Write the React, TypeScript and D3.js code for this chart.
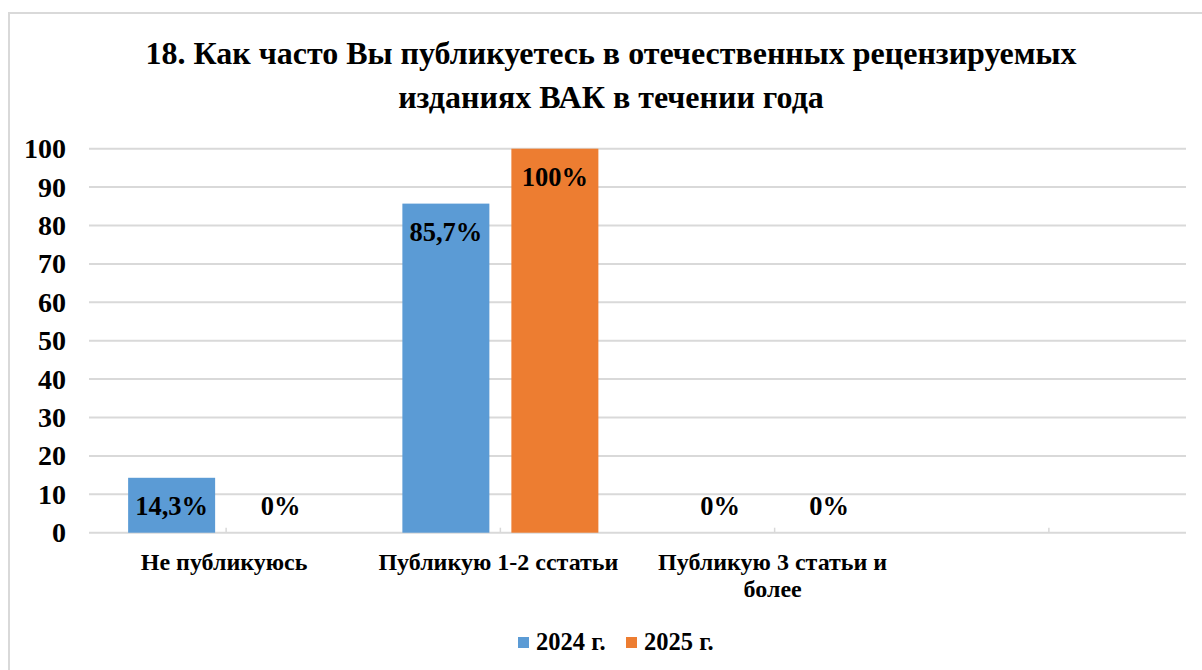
import React from "react";
import * as d3 from "d3";

const categories = ["Не публикуюсь", "Публикую 1-2 сстатьи", "Публикую 3 статьи и более", ""];
const categoryLines = [["Не публикуюсь"], ["Публикую 1-2 сстатьи"], ["Публикую 3 статьи и", "более"], []];
const series2024 = [14.3, 85.7, 0, null];
const series2025 = [0, 100, 0, null];
const labels2024 = ["14,3%", "85,7%", "0%", ""];
const labels2025 = ["0%", "100%", "0%", ""];
const seriesNames = ["2024 г.", "2025 г."];
const yTicks = [0, 10, 20, 30, 40, 50, 60, 70, 80, 90, 100];
const titleLines = [
  "18. Как часто Вы публикуетесь в отечественных рецензируемых",
  "изданиях ВАК в течении года",
];

const W = 1202;
const H = 670;
const colors = ["#5B9BD5", "#ED7D31"];
const font = '"Liberation Serif", "Times New Roman", Times, serif';

export default function App() {
  const left = 89;
  const right = 1186;
  const top = 148.7;
  const bottom = 532.7;

  const x = d3.scalePoint<string>().domain(categories.map((c, i) => String(i))).range([left, right]).padding(0.5);
  const y = d3.scaleLinear().domain([0, 100]).range([bottom, top]);
  const step = x.step();
  const barW = 87;
  const offset = 54.5;
  const ticksX = d3.range(categories.length + 1).map((i) => left + step * i - step / 2).filter((v) => v > left);
  const series = [series2024, series2025];
  const labels = [labels2024, labels2025];

  return (
    <div style={{ position: "absolute", left: 0, top: 0, width: W, height: H, background: "#fff" }}>
      <svg width={W} height={H} style={{ display: "block", fontFamily: font, fontWeight: 700 }}>
        <rect x={9} y={13} width={W} height={H} fill="#fff" stroke="#d9d9d9" strokeWidth={2} />
        {titleLines.map((t, i) => (
          <text key={i} x={611} y={64 + i * 44} textAnchor="middle" fontSize={32} fill="#000">
            {t}
          </text>
        ))}
        {yTicks.map((t) => (
          <g key={t}>
            <line x1={left} x2={right} y1={y(t)} y2={y(t)} stroke="#d9d9d9" strokeWidth={2} />
            <text x={66} y={y(t) + 9.5} textAnchor="end" fontSize={28} fill="#000">
              {t}
            </text>
          </g>
        ))}
        {ticksX.map((tx, i) => (
          <line key={i} x1={tx} x2={tx} y1={bottom} y2={bottom - 5} stroke="#d9d9d9" strokeWidth={1.5} />
        ))}
        {series.map((s, si) =>
          s.map((v, ci) => {
            if (v === null) return null;
            const cx = (x(String(ci)) as number) + (si === 0 ? -offset : offset);
            return (
              <g key={`${si}-${ci}`}>
                {v > 0 && (
                  <rect x={cx - barW / 2} y={y(v)} width={barW} height={y(0) - y(v)} fill={colors[si]} />
                )}
                <text
                  x={cx}
                  y={v > 5 ? y(v) + 37 : y(0) - 18}
                  textAnchor="middle"
                  fontSize={26.5}
                  fill="#000"
                >
                  {labels[si][ci]}
                </text>
              </g>
            );
          })
        )}
        {categoryLines.map((lines, ci) => {
          const cx = (x(String(ci)) as number) - 2;
          return lines.map((ln, li) => (
            <text key={`${ci}-${li}`} x={cx} y={570 + li * 27} textAnchor="middle" fontSize={24} fill="#000">
              {ln}
            </text>
          ));
        })}
        {seriesNames.map((n, i) => (
          <g key={n} transform={`translate(${518 + i * 108},0)`}>
            <rect x={0} y={637} width={11} height={11} fill={colors[i]} />
            <text x={18} y={650} fontSize={24.5} fill="#000">
              {n}
            </text>
          </g>
        ))}
      </svg>
    </div>
  );
}
